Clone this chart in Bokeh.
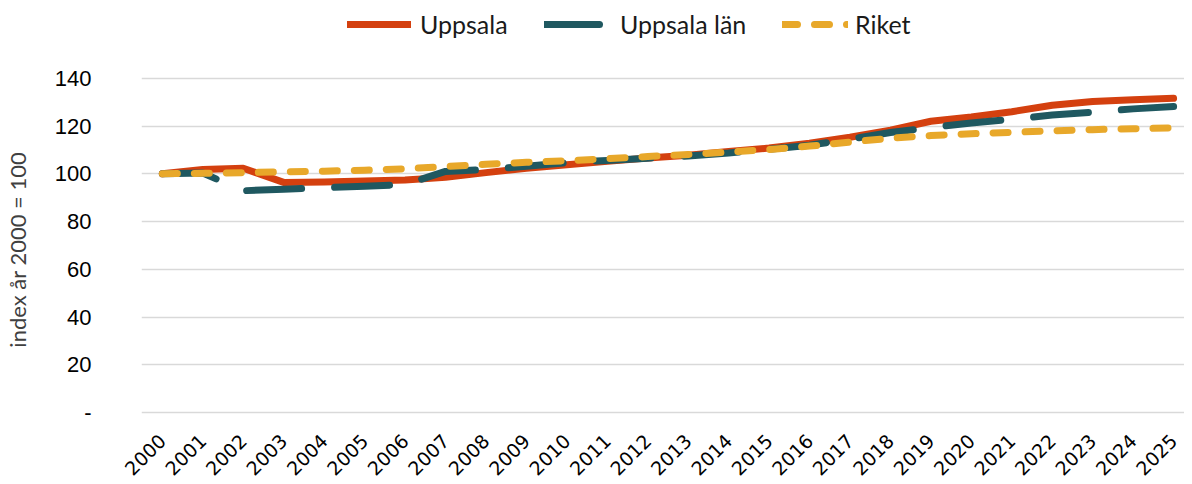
import math
from bokeh.plotting import figure
from bokeh.models import Range1d, FixedTicker, Legend, LegendItem
from bokeh.embed import file_html
from bokeh.resources import INLINE

years = list(range(2000, 2026))
uppsala = [100, 101.8, 102.3, 96.4, 96.6, 97.0, 97.4, 98.5, 100.5, 102.3, 103.8, 105.2, 106.6,
           107.8, 109.3, 110.8, 112.8, 115.3, 118.3, 122.0, 123.8, 126.0, 128.7, 130.3, 131.0, 131.6]
uppsala_lan = [100, 100.3, 92.9, 93.5, 94.2, 94.8, 95.5, 101.0, 101.8, 103.2, 104.7, 105.6, 106.5,
               107.5, 108.7, 110.3, 112.0, 114.5, 117.3, 119.4, 121.3, 122.8, 124.6, 125.8, 127.2, 128.2]
riket = [100, 100.2, 100.5, 100.8, 101.1, 101.5, 102.1, 103.0, 104.0, 104.8, 105.5, 106.3, 107.2,
         108.1, 109.1, 110.2, 111.6, 113.3, 114.9, 116.0, 116.8, 117.4, 118.0, 118.5, 118.9, 119.2]
y_ticks = [0, 20, 40, 60, 80, 100, 120, 140]

RED = "#D4400F"
TEAL = "#1F5860"
GOLD = "#E8A82A"

p = figure(width=1184, height=484, output_backend="svg", toolbar_location=None,
           x_range=Range1d(1999.485, 2025.27), y_range=Range1d(-0.84, 172.6),
           min_border_left=132, min_border_right=0, min_border_top=0, min_border_bottom=69)
p.outline_line_color = None

r1 = p.line(years, uppsala, line_color=RED, line_width=7, line_cap="round", line_join="round")
r2 = p.line(years, uppsala_lan, line_color=TEAL, line_width=7, line_cap="round", line_join="round",
            line_dash="55 33")
r3 = p.line(years, riket, line_color=GOLD, line_width=7, line_cap="round", line_join="round",
            line_dash="15 17")

p.xgrid.visible = False
p.ygrid.grid_line_color = "#D9D9D9"
p.ygrid.grid_line_width = 1.5

p.yaxis.ticker = FixedTicker(ticks=y_ticks)
p.yaxis.major_label_overrides = {0: "-"}
p.yaxis.axis_line_color = None
p.yaxis.major_tick_line_color = None
p.yaxis.minor_tick_line_color = None
p.yaxis.major_label_standoff = 44
p.yaxis.major_label_text_font = "Liberation Sans"
p.yaxis.major_label_text_font_size = "22px"
p.yaxis.major_label_text_color = "#000000"
p.yaxis.axis_label = "index år 2000 = 100" + "\u00a0" * 15
p.yaxis.axis_label_text_font = "Lato"
p.yaxis.axis_label_text_font_style = "normal"
p.yaxis.axis_label_text_font_size = "22px"
p.yaxis.axis_label_text_color = "#404040"
p.yaxis.axis_label_standoff = 21

p.xaxis.ticker = FixedTicker(ticks=years)
p.xaxis.major_label_orientation = math.pi / 4
p.xaxis.axis_line_color = None
p.xaxis.major_tick_line_color = None
p.xaxis.minor_tick_line_color = None
p.xaxis.major_label_text_font = "DejaVu Sans"
p.xaxis.major_label_text_font_size = "19px"
p.xaxis.major_label_text_color = "#000000"
p.xaxis.major_label_standoff = 17


def add_legend(label, renderer, x, gw, standoff):
    leg = Legend(items=[LegendItem(label=label, renderers=[renderer])],
                 location=(x, 375), orientation="horizontal",
                 glyph_width=gw, glyph_height=30, label_height=30,
                 label_standoff=standoff, padding=0, margin=0,
                 border_line_color=None, background_fill_alpha=0,
                 label_text_font="Lato", label_text_font_size="25px",
                 label_text_color="#1a1a1a")
    p.add_layout(leg)


add_legend("Uppsala", r1, 206, 64, 9)
add_legend("Uppsala län", r2, 403, 64, 12)
add_legend("Riket", r3, 641, 66, 7)

open("out.html", "w").write(file_html(p, INLINE))
